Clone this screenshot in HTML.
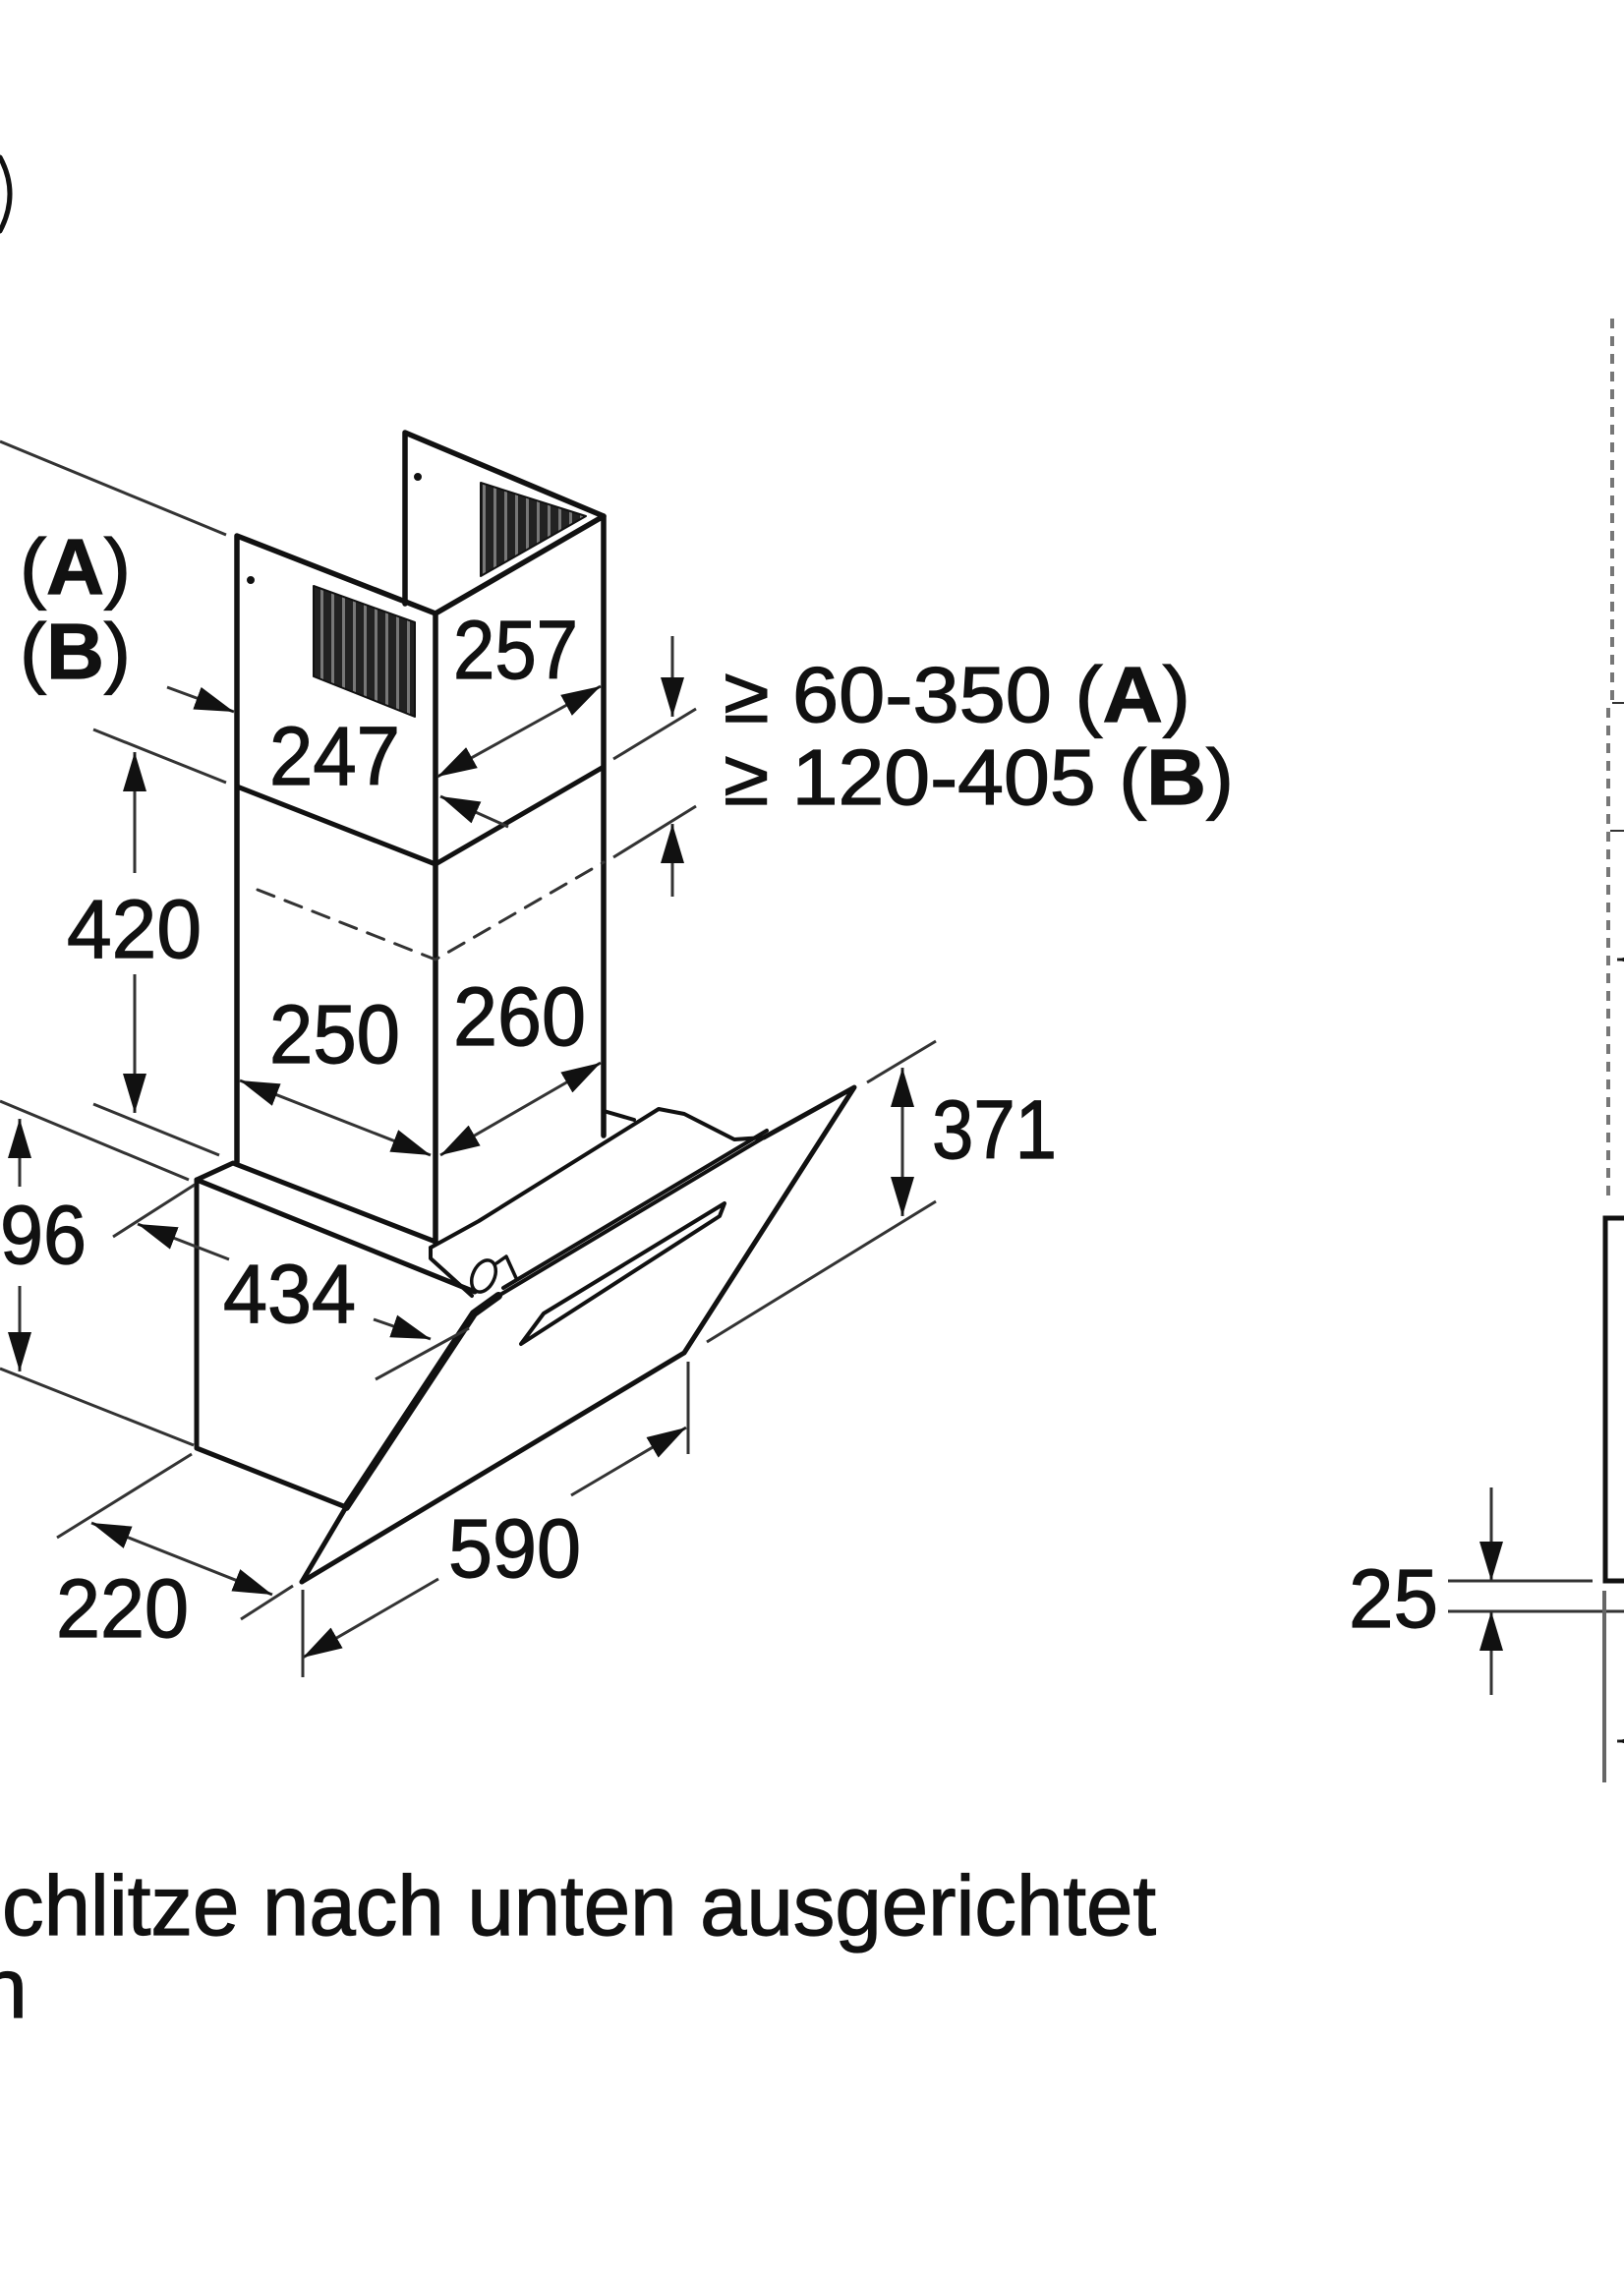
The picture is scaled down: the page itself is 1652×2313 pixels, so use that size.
<!DOCTYPE html>
<html><head><meta charset="utf-8"><style>
html,body{margin:0;padding:0;background:#fff;}
svg{display:block;}
text{font-family:"Liberation Sans",Arial,sans-serif;fill:#111;stroke:#111;stroke-width:1.2;}
</style></head><body>
<svg width="1652" height="2313" viewBox="0 0 1652 2313" xmlns="http://www.w3.org/2000/svg">
<defs>
<marker id="ah" markerUnits="userSpaceOnUse" markerWidth="44" markerHeight="26" refX="40" refY="12" orient="auto-start-reverse" viewBox="0 0 44 24">
<path d="M0,0 L40,12 L0,24 Z" fill="#111"/>
</marker>
<pattern id="vent" patternUnits="userSpaceOnUse" width="11" height="10">
<rect width="11" height="10" fill="#222"/><rect x="7" width="3" height="10" fill="#777"/>
</pattern>
</defs>
<g fill="none" stroke="#111" stroke-linecap="round" stroke-linejoin="round">
<path d="M0,160 Q20,197 0,235" stroke-width="5"/>
<path d="M412,614 L412,440 L614,525" stroke-width="5.5"/>
<path d="M241,1182 L241,545 L443,624 L614,525 L614,1155" stroke-width="5.5"/>
<path d="M443,624 L443,1264" stroke-width="5.5"/>
<path d="M241,800 L443,879 L614,780" stroke-width="5"/>
<path d="M262,905 L443,976 L614,877" stroke-width="3" stroke-dasharray="18,12" stroke="#333"/>
<polygon points="319,596 422,633 422,729 319,688" fill="url(#vent)" stroke-width="2"/>
<polygon points="489,491 596,525 489,586" fill="url(#vent)" stroke-width="2"/>
<path d="M200,1200 L237,1183 L443,1263" stroke-width="5"/>
<path d="M200,1200 L483,1314" stroke-width="5"/>
<path d="M200,1200 L200,1473 L352,1533" stroke-width="5"/>
<path d="M307,1609 L352,1533" stroke-width="5"/>
<path d="M352,1533 L482,1336 L507,1318" stroke-width="8"/>
<path d="M307,1609 L696,1376 L869,1106 L777,1157" stroke-width="5"/>
<path d="M507,1318 L777,1157 M512,1310 L780,1150" stroke-width="4"/>
<polygon points="530,1367 553,1336 737,1224 732,1237" stroke-width="4"/>
<path d="M438,1269 L487,1242 L670,1128 L696,1133 L747,1159 L777,1157" stroke-width="4"/>
<path d="M614,1130 L645,1139" stroke-width="4"/>
<path d="M438,1269 L438,1280 L480,1318" stroke-width="4"/>
<ellipse cx="492" cy="1298" rx="11" ry="17" stroke-width="3.5" transform="rotate(25 492 1298)"/>
<path d="M505,1285 L515,1278 L525,1300" stroke-width="3.5"/>
<circle cx="255" cy="590" r="3.5" fill="#111"/>
<circle cx="425" cy="485" r="3.5" fill="#111"/>
</g>
<g fill="none" stroke="#333" stroke-width="3">
<path d="M445,790 L611,698" marker-start="url(#ah)" marker-end="url(#ah)"/>
<path d="M170,699 L238,724" marker-end="url(#ah)"/>
<path d="M517,841 L448,810" marker-end="url(#ah)"/>
<path d="M624,772 L708,721 M624,872 L708,820"/>
<path d="M684,647 L684,729" marker-end="url(#ah)"/>
<path d="M684,912 L684,838" marker-end="url(#ah)"/>
<path d="M244,1099 L438,1175" marker-start="url(#ah)" marker-end="url(#ah)"/>
<path d="M448,1175 L611,1081" marker-start="url(#ah)" marker-end="url(#ah)"/>
<path d="M0,449 L230,544"/>
<path d="M95,742 L230,796 M95,1123 L223,1175"/>
<path d="M137,888 L137,765" marker-end="url(#ah)"/>
<path d="M137,991 L137,1132" marker-end="url(#ah)"/>
<path d="M0,1120 L192,1200 M0,1392 L197,1470"/>
<path d="M20,1207 L20,1138" marker-end="url(#ah)"/>
<path d="M20,1308 L20,1395" marker-end="url(#ah)"/>
<path d="M233,1281 L140,1245" marker-end="url(#ah)"/>
<path d="M380,1342 L438,1362" marker-end="url(#ah)"/>
<path d="M115,1258 L198,1205 M382,1403 L477,1351"/>
<path d="M93,1549 L277,1622" marker-start="url(#ah)" marker-end="url(#ah)"/>
<path d="M58,1564 L195,1479 M245,1647 L298,1613"/>
<path d="M446,1606 L308,1686" marker-end="url(#ah)"/>
<path d="M581,1521 L698,1452" marker-end="url(#ah)"/>
<path d="M308,1617 L308,1706 M700,1385 L700,1479"/>
<path d="M918,1086 L918,1237" marker-start="url(#ah)" marker-end="url(#ah)"/>
<path d="M882,1101 L952,1059 M719,1365 L952,1222"/>
<path d="M1640,324 L1640,715" stroke-width="4" stroke="#777" stroke-dasharray="10,8"/>
<path d="M1636,720 L1636,1218" stroke-width="4" stroke="#777" stroke-dasharray="10,8"/>
<path d="M1640,715 L1652,715 M1638,845 L1652,845" stroke-width="2"/>
<path d="M1652,1239 L1633,1239 L1633,1608 L1652,1608" stroke="#111" stroke-width="5"/>
<path d="M1473,1608 L1620,1608 M1473,1639 L1652,1639"/>
<path d="M1517,1513 L1517,1608" marker-end="url(#ah)"/>
<path d="M1517,1724 L1517,1639" marker-end="url(#ah)"/>
<path d="M1632,1618 L1632,1813" stroke-width="4" stroke="#666"/>
<path d="M1652,976 L1645,976" marker-end="url(#ah)"/>
<path d="M1652,1771 L1645,1771" marker-end="url(#ah)"/>
</g>
<g font-size="84">
<text x="461" y="690" textLength="127" lengthAdjust="spacingAndGlyphs">257</text>
<text x="274" y="798" textLength="133" lengthAdjust="spacingAndGlyphs">247</text>
<text x="274" y="1081" textLength="133" lengthAdjust="spacingAndGlyphs">250</text>
<text x="461" y="1063" textLength="135" lengthAdjust="spacingAndGlyphs">260</text>
<text x="68" y="974" textLength="137" lengthAdjust="spacingAndGlyphs">420</text>
<text x="0" y="1285" textLength="88" lengthAdjust="spacingAndGlyphs">96</text>
<text x="227" y="1345" textLength="135" lengthAdjust="spacingAndGlyphs">434</text>
<text x="57" y="1665" textLength="135" lengthAdjust="spacingAndGlyphs">220</text>
<text x="456" y="1604" textLength="135" lengthAdjust="spacingAndGlyphs">590</text>
<text x="948" y="1178" textLength="127" lengthAdjust="spacingAndGlyphs">371</text>
<text x="1372" y="1655" textLength="91" lengthAdjust="spacingAndGlyphs">25</text>
</g>
<g font-size="80">
<text x="736" y="734" textLength="475" lengthAdjust="spacingAndGlyphs">≥ 60-350 (<tspan font-weight="bold">A</tspan>)</text>
<text x="736" y="818" textLength="519" lengthAdjust="spacingAndGlyphs">≥ 120-405 (<tspan font-weight="bold">B</tspan>)</text>
<text x="20" y="604" textLength="113" lengthAdjust="spacingAndGlyphs">(<tspan font-weight="bold">A</tspan>)</text>
<text x="20" y="690" textLength="113" lengthAdjust="spacingAndGlyphs">(<tspan font-weight="bold">B</tspan>)</text>
</g>
<g font-size="86">
<text x="2" y="1968" textLength="1174" lengthAdjust="spacingAndGlyphs">chlitze nach unten ausgerichtet</text>
<text x="-20" y="2052">n</text>
</g>
</svg>
</body></html>
